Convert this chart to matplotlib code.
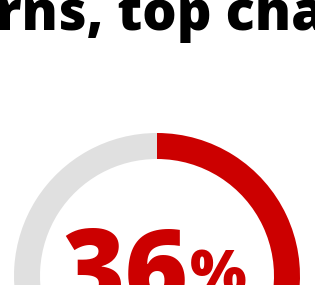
import matplotlib
matplotlib.use('Agg')
import matplotlib.pyplot as plt

# data
labels = ['share', 'rest']
values = [36, 64]
colors = ['#cc0000', '#e0e0e0']
big_label = '36'
title_text = 'rns, top cha'

fig = plt.figure(figsize=(3.15, 2.85), dpi=100)
ax = fig.add_axes([0, 0, 1, 1])

ax.pie(values, colors=colors, startangle=90, counterclock=False,
       center=(157, 9), radius=143, frame=True,
       wedgeprops=dict(width=26, linewidth=0))
ax.set_xlim(0, 315)
ax.set_ylim(0, 285)
ax.set_aspect('equal')
ax.axis('off')

ax.text(-4, 255, title_text, fontsize=39, fontweight='heavy',
        family='Open Sans', color='black', ha='left', va='baseline')
ax.text(188, -22, big_label, fontsize=78, fontweight='heavy',
        family='Open Sans', color='#cc0000', ha='right', va='baseline')
ax.text(190, -8, '%', fontsize=43, fontweight='heavy',
        family='Open Sans', color='#cc0000', ha='left', va='baseline')

fig.savefig('out.png', dpi=100)
